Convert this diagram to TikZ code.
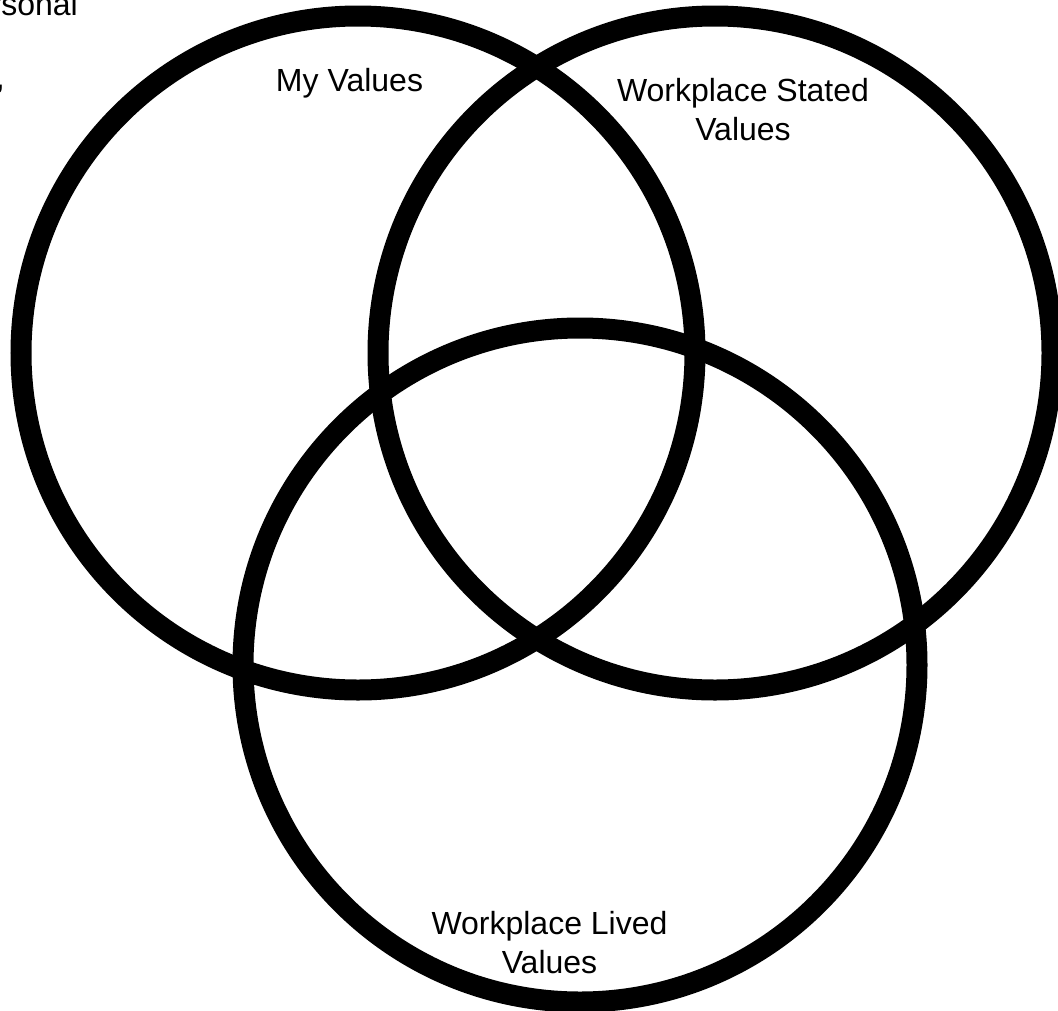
\documentclass[tikz,border=0pt]{standalone}
\usepackage{fontspec}
\setmainfont{Liberation Sans}
\begin{document}
\begin{tikzpicture}[x=1pt,y=-1pt,
  ring/.style={draw=black,line width=21pt,circle,minimum size=674pt,inner sep=0pt},
  lbl/.style={font=\fontsize{32}{39}\selectfont,text=black,inner sep=0pt,align=center}]
  \useasboundingbox (0,0) rectangle (1058,1010);
  \clip (0,0) rectangle (1058,1010);
  % three overlapping value sets
  \node[ring] (mine) at (358,353) {};
  \node[ring] (stated) at (715,353) {};
  \node[ring] (lived) at (580,665) {};
  % set labels
  \node[lbl,anchor=base] (tmine) at (349.5,91) {My Values};
  \node[lbl] (tstated) at (743,110) {Workplace Stated\\Values};
  \node[lbl] (tlived) at (549.5,943) {Workplace Lived\\Values};
  % surrounding paragraph text running off the left edge
  \node[lbl,anchor=base east] (tpara1) at (78,15) {personal};
  \node[lbl,anchor=base east] (tpara2) at (5,88) {,};
\end{tikzpicture}
\end{document}
